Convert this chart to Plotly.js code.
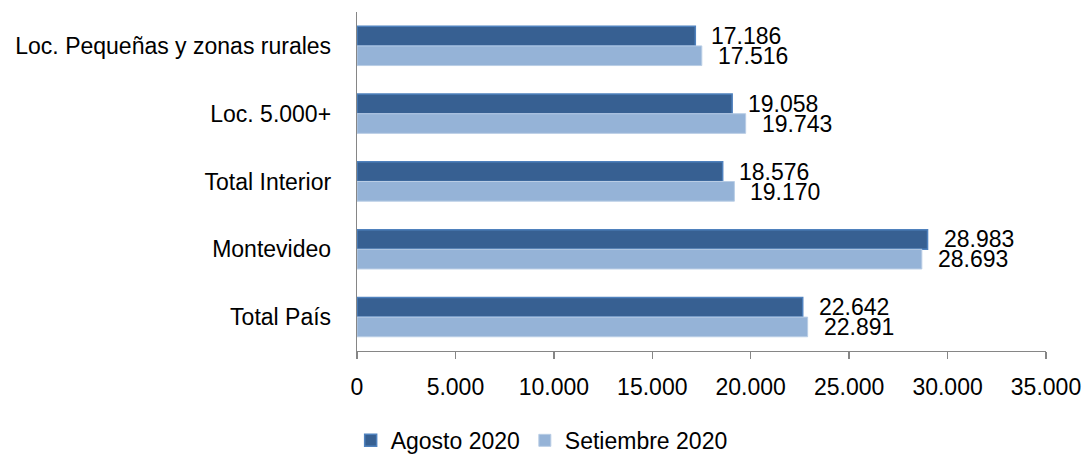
<!DOCTYPE html>
<html>
<head>
<meta charset="utf-8">
<script src="https://cdn.plot.ly/plotly-3.0.1.min.js"></script>
<style>html,body{margin:0;padding:0;background:#fff;}#chart{width:1089px;height:454px;}</style>
</head>
<body>
<div id="chart"></div>
<script>
// Categories listed top to bottom
const categories = ["Loc. Pequeñas y zonas rurales", "Loc. 5.000+", "Total Interior", "Montevideo", "Total País"];
const agosto2020 = [17186, 19058, 18576, 28983, 22642];
const setiembre2020 = [17516, 19743, 19170, 28693, 22891];
const seriesNames = ["Agosto 2020", "Setiembre 2020"];
const xTicks = [0, 5000, 10000, 15000, 20000, 25000, 30000, 35000];

const FONT = "'Liberation Sans', Arial, sans-serif";
const fmt = v => String(v).replace(/\B(?=(\d{3})+(?!\d))/g, '.');

const traces = [
  {type: 'bar', orientation: 'h', name: seriesNames[0], y: categories, x: agosto2020,
   marker: {color: '#376092', line: {color: '#4F81BD', width: 1.5}}, hoverinfo: 'x+y'},
  {type: 'bar', orientation: 'h', name: seriesNames[1], y: categories, x: setiembre2020,
   marker: {color: '#95B3D7', line: {color: '#B9CDE5', width: 1}}, hoverinfo: 'x+y'}
];

const annotations = [];
categories.forEach((c, i) => {
  annotations.push({x: agosto2020[i], y: c, xref: 'x', yref: 'y', text: fmt(agosto2020[i]),
    showarrow: false, xanchor: 'left', yanchor: 'middle', xshift: 14, yshift: 10,
    font: {family: FONT, size: 23, color: '#000'}});
  annotations.push({x: setiembre2020[i], y: c, xref: 'x', yref: 'y', text: fmt(setiembre2020[i]),
    showarrow: false, xanchor: 'left', yanchor: 'middle', xshift: 14, yshift: -10,
    font: {family: FONT, size: 23, color: '#000'}});
});

const layout = {
  width: 1089, height: 454,
  margin: {l: 357, r: 43, t: 12, b: 103, pad: 0},
  paper_bgcolor: '#fff', plot_bgcolor: '#fff',
  separators: ',.',
  barmode: 'group', bargap: 0.42, bargroupgap: 0,
  font: {family: FONT, size: 23, color: '#000'},
  xaxis: {range: [0, 35000], tickvals: xTicks, ticktext: xTicks.map(fmt),
    showgrid: false, zeroline: false, showline: true, linecolor: '#868686', linewidth: 1.3,
    ticks: 'outside', ticklen: 7, tickcolor: '#868686', tickwidth: 1.3,
    ticklabelstandoff: 8, tickfont: {family: FONT, size: 23, color: '#000'}, fixedrange: true},
  yaxis: {type: 'category', autorange: 'reversed', showgrid: false, zeroline: false,
    showline: true, linecolor: '#868686', linewidth: 1.3, ticks: '',
    ticklabelstandoff: 20, tickfont: {family: FONT, size: 23, color: '#000'}, fixedrange: true},
  showlegend: true,
  legend: {orientation: 'h', xref: 'container', yref: 'container', x: 0.322, xanchor: 'left',
    y: 0.03, yanchor: 'middle', font: {family: FONT, size: 23, color: '#000'},
    itemwidth: 30, tracegroupgap: 0, bgcolor: 'rgba(0,0,0,0)'},
  annotations: annotations
};

Plotly.newPlot('chart', traces, layout, {displayModeBar: false, staticPlot: true});
</script>
</body>
</html>
